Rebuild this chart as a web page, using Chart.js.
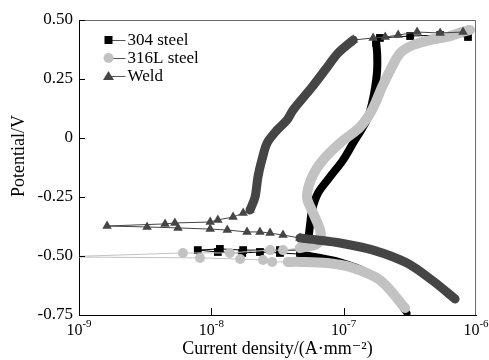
<!DOCTYPE html>
<html>
<head>
<meta charset="utf-8">
<script src="https://cdn.jsdelivr.net/npm/chart.js@4.4.1/dist/chart.umd.min.js"></script>
<style>
  html, body { margin: 0; background: #fff; }
  #wrap { width: 489px; height: 360px; }
</style>
</head>
<body>
<div id="wrap"><canvas id="polarization"></canvas></div>
<script>
// current density in A/mm2, potential in V

// 304 steel
const s304CathI = [3.01e-7, 2.13e-7, 1.50e-7, 9.4e-8, 6.3e-8, 4.68e-8];
const s304CathV = [-0.742, -0.631, -0.568, -0.525, -0.504, -0.492];
const s304EcorrI = [4.68e-8, 3.30e-8, 2.33e-8, 1.71e-8, 1.12e-8, 7.9e-9, 1.16e-8, 1.74e-8, 3.30e-8, 4.93e-8];
const s304EcorrV = [-0.492, -0.487, -0.483, -0.487, -0.483, -0.475, -0.470, -0.475, -0.475, -0.475];
const s304AnodI = [4.93e-8, 5.2e-8, 5.38e-8, 5.57e-8, 5.77e-8, 6.4e-8, 7.88e-8, 9.9e-8, 1.18e-7, 1.40e-7, 1.53e-7, 1.64e-7, 1.73e-7, 1.79e-7, 1.79e-7, 1.76e-7];
const s304AnodV = [-0.475, -0.453, -0.432, -0.369, -0.305, -0.233, -0.165, -0.093, -0.021, 0.047, 0.089, 0.148, 0.216, 0.288, 0.360, 0.403];
const s304TopI = [1.76e-7, 1.88e-7, 3.18e-7, 5.36e-7, 8.7e-7];
const s304TopV = [0.403, 0.424, 0.432, 0.436, 0.428];

// 316L steel
const s316CathI = [2.91e-7, 1.88e-7, 1.12e-7, 7.48e-8, 4.68e-8, 3.80e-8];
const s316CathV = [-0.720, -0.602, -0.547, -0.530, -0.525, -0.525];
const s316EcorrI = [3.80e-8, 2.88e-8, 2.46e-8, 1.65e-8, 8.2e-9, 7.2e-10, 6.1e-9, 1.38e-8, 2.78e-8, 3.48e-8, 4.68e-8];
const s316EcorrV = [-0.525, -0.525, -0.517, -0.513, -0.508, -0.504, -0.487, -0.487, -0.475, -0.475, -0.466];
const s316AnodI = [4.68e-8, 6.08e-8, 6.64e-8, 6.64e-8, 5.88e-8, 5.28e-8, 5.77e-8, 6.98e-8, 9.4e-8, 1.33e-7, 1.64e-7, 1.95e-7, 2.25e-7, 2.67e-7, 3.35e-7, 4.50e-7, 6.05e-7, 7.85e-7, 9.0e-7];
const s316AnodV = [-0.466, -0.453, -0.432, -0.390, -0.318, -0.250, -0.165, -0.093, -0.021, 0.047, 0.119, 0.216, 0.288, 0.360, 0.394, 0.415, 0.428, 0.449, 0.458];

// Weld
const weldCathI = [6.95e-7, 4.74e-7, 3.01e-7, 1.67e-7, 9.4e-8, 6.3e-8, 4.68e-8];
const weldCathV = [-0.682, -0.606, -0.530, -0.475, -0.445, -0.432, -0.424];
const weldEcorrI = [4.68e-8, 3.48e-8, 2.78e-8, 2.33e-8, 1.86e-8, 1.32e-8, 9.8e-9, 5.6e-9, 3.27e-9, 1.63e-9, 4.47e-9, 5.3e-9, 9.8e-9, 1.12e-8, 1.46e-8, 1.74e-8, 1.96e-8];
const weldEcorrV = [-0.424, -0.411, -0.403, -0.398, -0.398, -0.390, -0.386, -0.381, -0.377, -0.373, -0.364, -0.360, -0.356, -0.347, -0.335, -0.318, -0.305];
const weldAnodI = [1.96e-8, 2.14e-8, 2.25e-8, 2.41e-8, 2.64e-8, 3.14e-8, 3.73e-8, 4.15e-8, 5.77e-8, 7.23e-8, 9.08e-8, 1.18e-7];
const weldAnodV = [-0.305, -0.250, -0.165, -0.093, -0.021, 0.034, 0.076, 0.119, 0.216, 0.288, 0.360, 0.415];
const weldTopI = [1.18e-7, 1.67e-7, 2.06e-7, 2.58e-7, 3.59e-7, 5.36e-7, 7.98e-7];
const weldTopV = [0.415, 0.424, 0.428, 0.436, 0.449, 0.445, 0.449];

const xTicks = [1e-9, 1e-8, 1e-7, 1e-6];
const seriesNames = ['304 steel', '316L steel', 'Weld'];
const seriesColors = ['#000000', '#c2c2c2', '#454545'];
const seriesMarkers = ['rect', 'circle', 'triangle'];

const serif = "'Liberation Serif', 'DejaVu Serif', serif";

function pts(I, V) {
    return I.map((c, i) => ({ x: c, y: V[i] }));
}

// dense part of a curve: markers overlap so much they read as a thick band
function band(k, I, V, width) {
    return {
        label: seriesNames[k], data: pts(I, V), showLine: true,
        borderColor: seriesColors[k], borderWidth: width, tension: 0.3,
        borderCapStyle: 'round', borderJoinStyle: 'round',
        pointRadius: 0, order: 3 - k
    };
}

// sparse part: separate markers joined by a thin line
function sparse(k, I, V, radius) {
    return {
        label: seriesNames[k], data: pts(I, V), showLine: true,
        borderColor: seriesColors[k], borderWidth: 1, tension: 0,
        pointStyle: seriesMarkers[k], pointRadius: radius,
        pointBackgroundColor: seriesColors[k], pointBorderColor: seriesColors[k],
        pointBorderWidth: 0, order: 3 - k
    };
}

const frameAndLabels = {
    id: 'frameAndLabels',
    afterDraw(chart) {
        const { ctx, chartArea: a, scales: { x, y } } = chart;
        ctx.save();
        // top and right frame
        ctx.strokeStyle = '#6a6a6a';
        ctx.lineWidth = 1;
        ctx.beginPath();
        ctx.moveTo(a.left, a.top + 0.5);
        ctx.lineTo(a.right - 0.5, a.top + 0.5);
        ctx.lineTo(a.right - 0.5, a.bottom);
        ctx.stroke();
        // inward ticks
        ctx.strokeStyle = '#000';
        ctx.beginPath();
        y.ticks.forEach(t => {
            const py = Math.round(y.getPixelForValue(t.value)) + 0.5;
            ctx.moveTo(a.left, py);
            ctx.lineTo(a.left + 6, py);
        });
        xTicks.slice(1, -1).forEach(v => {
            const px = Math.round(x.getPixelForValue(v)) + 0.5;
            ctx.moveTo(px, a.bottom);
            ctx.lineTo(px, a.bottom - 7);
        });
        ctx.stroke();
        // 10^n tick labels
        ctx.fillStyle = '#000';
        ctx.textBaseline = 'alphabetic';
        ctx.textAlign = 'left';
        xTicks.forEach(v => {
            const px = x.getPixelForValue(v);
            const sup = String(Math.round(Math.log10(v)));
            ctx.font = '16px ' + serif;
            const w1 = ctx.measureText('10').width;
            ctx.font = '11px ' + serif;
            const w2 = ctx.measureText(sup).width;
            const x0 = px - (w1 + w2) / 2;
            ctx.font = '16px ' + serif;
            ctx.fillText('10', x0, a.bottom + 20);
            ctx.font = '11px ' + serif;
            ctx.fillText(sup, x0 + w1, a.bottom + 12);
        });
        // y axis title
        ctx.save();
        ctx.translate(19, 156);
        ctx.rotate(-Math.PI / 2);
        ctx.textAlign = 'center';
        ctx.textBaseline = 'middle';
        ctx.font = '18px ' + serif;
        ctx.fillText('Potential/V', 0, 0);
        ctx.restore();
        // legend: marker, short line, label
        ctx.textBaseline = 'middle';
        ctx.font = '17px ' + serif;
        seriesNames.forEach((name, k) => {
            const cy = a.top + 20 + k * 18;
            const cx = a.left + 29.5;
            ctx.strokeStyle = '#555';
            ctx.beginPath();
            ctx.moveTo(cx, cy + 0.5);
            ctx.lineTo(cx + 17, cy + 0.5);
            ctx.stroke();
            ctx.fillStyle = seriesColors[k];
            ctx.beginPath();
            if (seriesMarkers[k] === 'rect') {
                ctx.rect(cx - 4, cy - 4, 8, 8);
            } else if (seriesMarkers[k] === 'circle') {
                ctx.arc(cx, cy, 5, 0, Math.PI * 2);
            } else {
                ctx.moveTo(cx, cy - 5);
                ctx.lineTo(cx + 5.5, cy + 4);
                ctx.lineTo(cx - 5.5, cy + 4);
                ctx.closePath();
            }
            ctx.fill();
            ctx.fillStyle = '#000';
            ctx.fillText(name, cx + 19, cy + 1);
        });
        ctx.restore();
    }
};

const ctx = document.getElementById('polarization').getContext('2d');

new Chart(ctx, {
    type: 'scatter',
    data: {
        datasets: [
            band(0, s304CathI, s304CathV, 7),
            sparse(0, s304EcorrI, s304EcorrV, 5.5),
            band(0, s304AnodI, s304AnodV, 8),
            sparse(0, s304TopI, s304TopV, 5.5),
            band(1, s316CathI, s316CathV, 10),
            sparse(1, s316EcorrI, s316EcorrV, 5),
            band(1, s316AnodI, s316AnodV, 10),
            band(2, weldCathI, weldCathV, 9),
            sparse(2, weldEcorrI, weldEcorrV, 5.5),
            band(2, weldAnodI, weldAnodV, 9),
            sparse(2, weldTopI, weldTopV, 5.5)
        ]
    },
    options: {
        responsive: true,
        maintainAspectRatio: false,
        animation: false,
        devicePixelRatio: 1,
        layout: { padding: { top: 20, right: 13, left: 0, bottom: 0 } },
        plugins: {
            legend: { display: false },
            tooltip: { enabled: false }
        },
        scales: {
            x: {
                type: 'logarithmic',
                min: 1e-9,
                max: 1e-6,
                afterBuildTicks: axis => { axis.ticks = xTicks.map(v => ({ value: v })); },
                afterFit: axis => { axis.height = 45; },
                grid: { display: false },
                border: { display: true, color: '#000', width: 1 },
                ticks: { display: false },
                title: {
                    display: true,
                    text: 'Current density/(A·mm⁻²)',
                    color: '#000',
                    font: { family: serif, size: 18 },
                    padding: { top: 0, bottom: 0 }
                }
            },
            y: {
                min: -0.75,
                max: 0.5,
                afterFit: axis => { axis.width = 79; },
                grid: { display: false, drawTicks: false },
                border: { display: true, color: '#000', width: 1 },
                ticks: {
                    stepSize: 0.25,
                    padding: 6,
                    color: '#000',
                    font: { family: serif, size: 17 },
                    callback: v => (Math.abs(v) < 1e-9 ? '0' : v.toFixed(2))
                }
            }
        }
    },
    plugins: [frameAndLabels]
});
</script>
</body>
</html>
